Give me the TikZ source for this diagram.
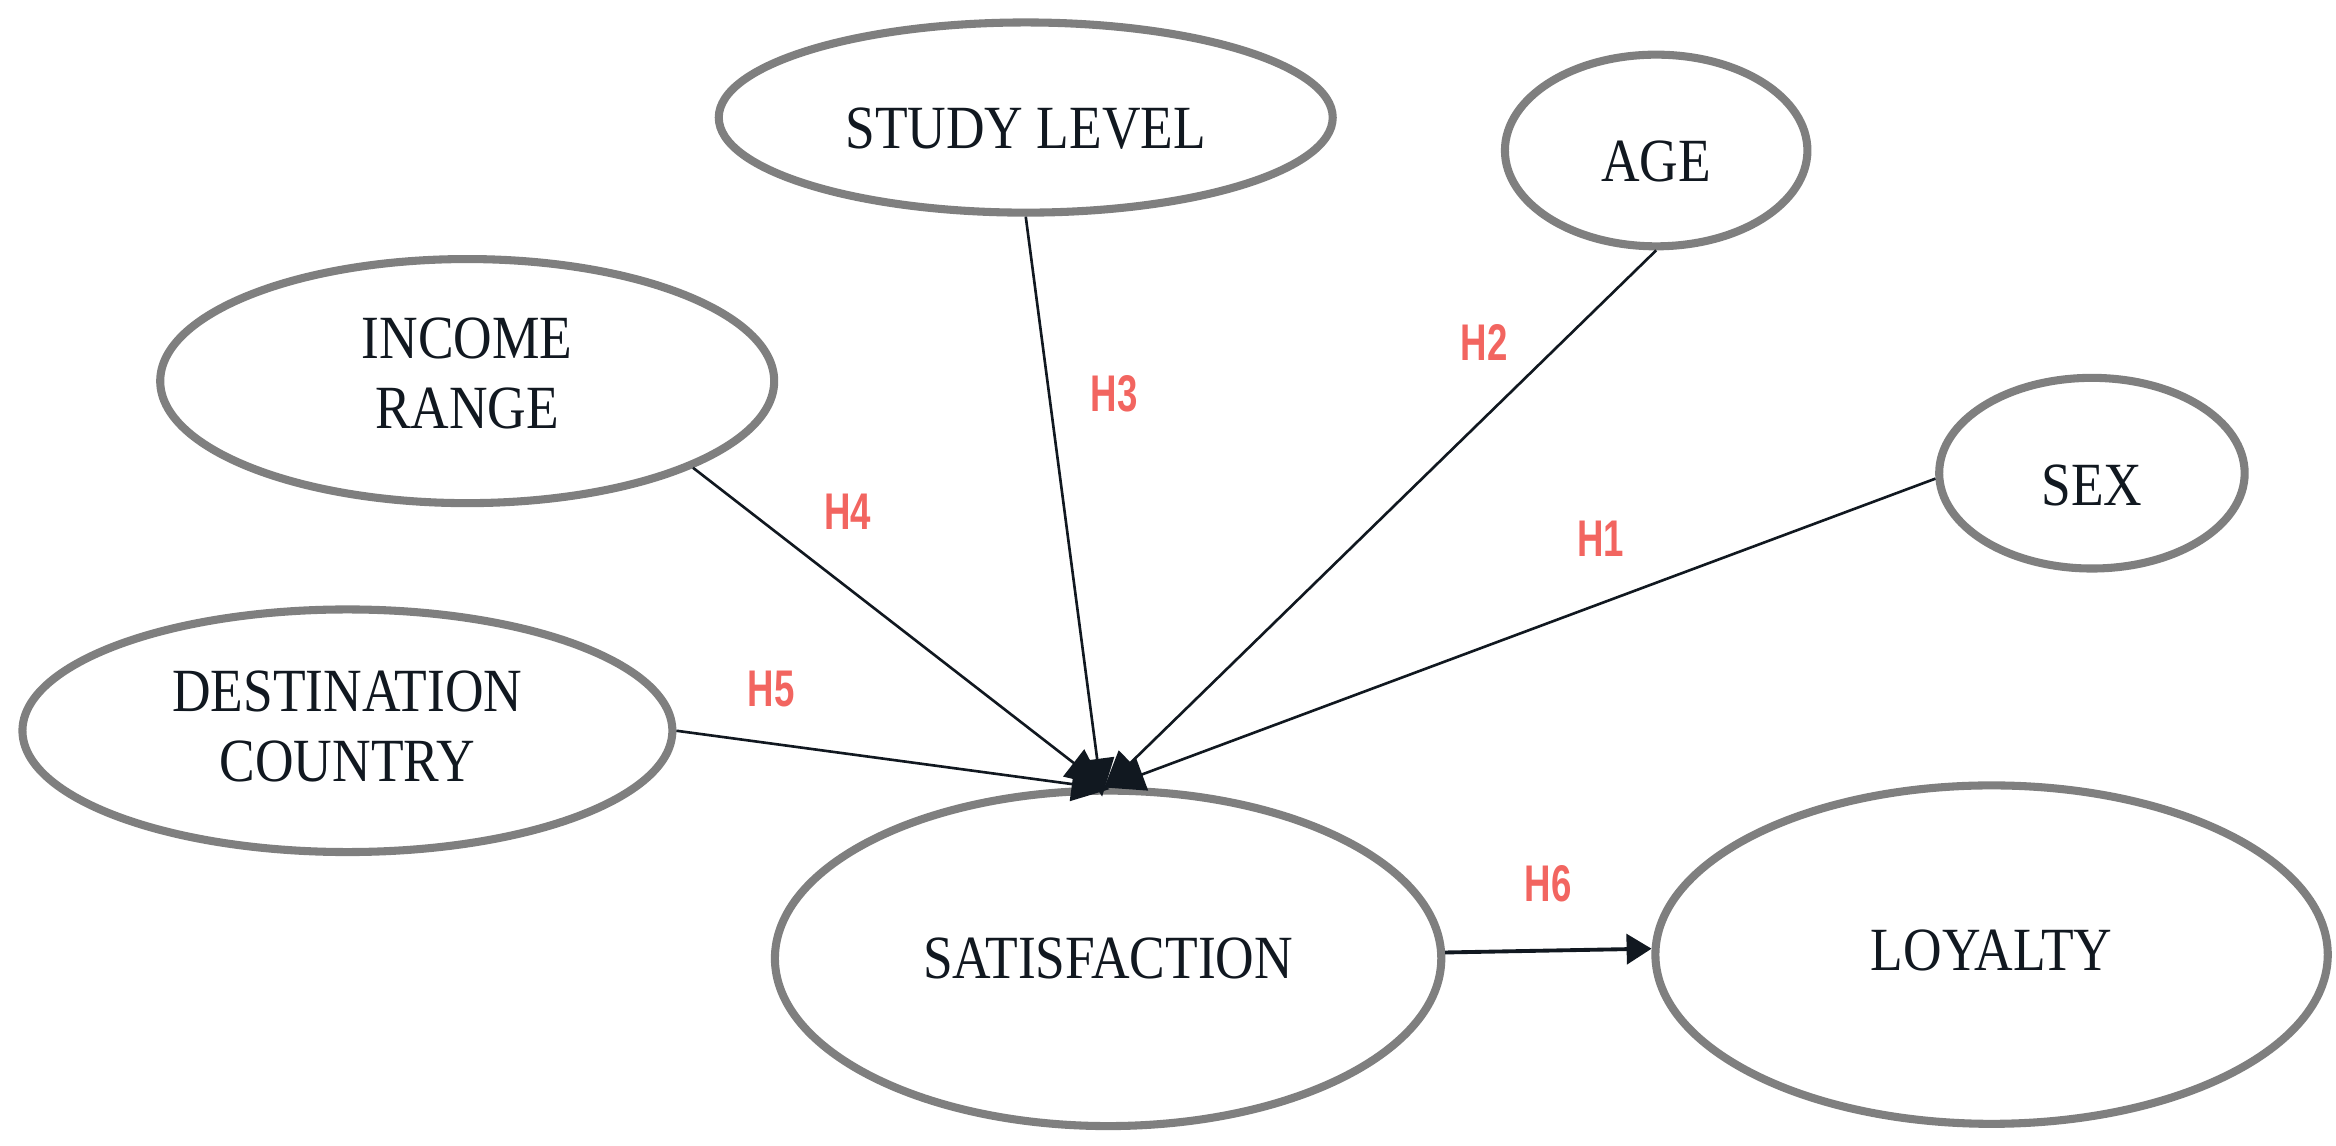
\documentclass[tikz,border=0pt]{standalone}
\usepackage{fontspec}
\setmainfont{Liberation Serif}[FakeStretch=0.87]
\newfontfamily\hfont{Liberation Sans}[FakeStretch=0.71]
\usetikzlibrary{shapes.geometric,arrows.meta}
\definecolor{ovalgray}{HTML}{7F7F7F}
\definecolor{hred}{HTML}{F26560}
\definecolor{ink}{HTML}{111820}
\begin{document}
\begin{tikzpicture}[x=0.015cm,y=-0.015cm,
  oval/.style={ellipse, draw=ovalgray, line width=2.3pt, fill=white, inner sep=0pt},
  txt/.style={font=\fontsize{17.5}{20}\selectfont, text=ink, align=center, inner sep=0pt},
  hlab/.style={font=\hfont\bfseries\fontsize{14.7}{16}\selectfont, text=hred, inner sep=0pt},
  link/.style={draw=ink, line width=0.75pt, -{Triangle[length=0.38cm,width=0.34cm]}},
  mainlink/.style={draw=ink, line width=1.1pt, -{Triangle[length=0.25cm,width=0.3cm]}},
]
\useasboundingbox (0,0) rectangle (1560,765);

\node[oval, minimum width=6.15cm, minimum height=1.905cm,
  label={[txt,yshift=-0.11cm]center:STUDY LEVEL}] (study) at (685,78.5) {};
\node[oval, minimum width=3.03cm, minimum height=1.92cm,
  label={[txt,yshift=-0.11cm]center:AGE}] (age) at (1106,100.5) {};
\node[oval, minimum width=6.15cm, minimum height=2.445cm,
  label={[txt,yshift=0.08cm]center:{INCOME\\RANGE}}] (income) at (312,254.5) {};
\node[oval, minimum width=3.06cm, minimum height=1.91cm,
  label={[txt,yshift=-0.12cm]center:SEX}] (sex) at (1397,316) {};
\node[oval, minimum width=6.51cm, minimum height=2.43cm,
  label={[txt,yshift=0.04cm]center:{DESTINATION\\COUNTRY}}] (dest) at (232,488) {};
\node[oval, minimum width=6.675cm, minimum height=3.36cm,
  label={[txt]center:SATISFACTION}] (sat) at (740,640) {};
\node[oval, minimum width=6.735cm, minimum height=3.39cm,
  label={[txt,yshift=0.04cm]center:LOYALTY}] (loy) at (1330,637.5) {};

\coordinate (e5) at (741,527);
\coordinate (e4) at (737,525);
\coordinate (e3) at (736,532);
\coordinate (e2) at (737,527);
\coordinate (e1) at (739,526);

\draw[link] (dest.east) -- (e5);
\draw[link] (income.-21) -- (e4);
\draw[link] (study.south) -- (e3);
\draw[link] (age.south) -- (e2);
\draw[link] (sex.182) -- (e1);
\draw[mainlink] (sat.1) -- (loy.179);

\node[hlab] (h1) at (1069,360) {H1};
\node[hlab] (h2) at (991,229) {H2};
\node[hlab] (h3) at (744,263) {H3};
\node[hlab] (h4) at (566,342) {H4};
\node[hlab] (h5) at (515,460) {H5};
\node[hlab] (h6) at (1034,590) {H6};
\end{tikzpicture}
\end{document}
